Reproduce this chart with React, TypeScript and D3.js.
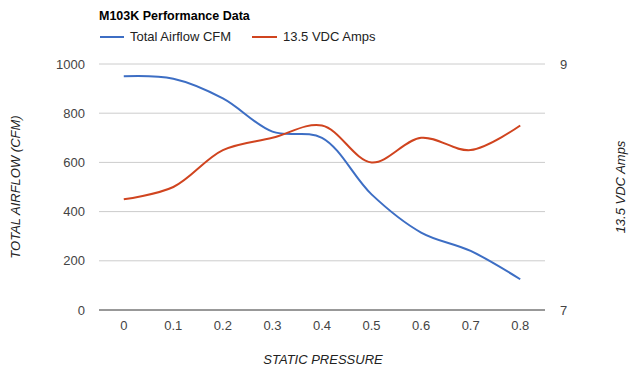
import React from "react";
import * as d3 from "d3";

const pressures = [0, 0.1, 0.2, 0.3, 0.4, 0.5, 0.6, 0.7, 0.8];
const airflowCFM = [950, 940, 860, 725, 700, 470, 315, 240, 125];
const amps = [7.9, 8.0, 8.3, 8.4, 8.5, 8.2, 8.4, 8.3, 8.5];
const leftTicks = [0, 200, 400, 600, 800, 1000];
const rightTicks = [7, 9];
const xTickLabels = ["0", "0.1", "0.2", "0.3", "0.4", "0.5", "0.6", "0.7", "0.8"];

const W = 638;
const H = 378;
const left = 99;
const right = 545;
const top = 64;
const bottom = 310;
const BLUE = "#3d6ec4";
const RED = "#d0441f";
const FONT = "Arial, 'Liberation Sans', sans-serif";

export default function App() {
  const x = d3.scaleLinear().domain([-0.05, 0.85]).range([left, right]);
  const yL = d3.scaleLinear().domain([0, 1000]).range([bottom, top]);
  const yR = d3.scaleLinear().domain([7, 9]).range([bottom, top]);

  const lineBlue = d3
    .line<number>()
    .x((_, i) => x(pressures[i]))
    .y((d) => yL(d))
    .curve(d3.curveCatmullRom.alpha(0.5));
  const lineRed = d3
    .line<number>()
    .x((_, i) => x(pressures[i]))
    .y((d) => yR(d))
    .curve(d3.curveCatmullRom.alpha(0.5));

  return (
    <svg
      width={W}
      height={H}
      style={{ position: "absolute", left: 0, top: 0, background: "#fff" }}
      fontFamily={FONT}
    >
      <rect x={0} y={0} width={W} height={H} fill="#fff" />
      <text x={99} y={20} fontSize={12.5} fontWeight="bold" fill="#000">
        M103K Performance Data
      </text>
      {/* legend */}
      <line x1={100} x2={124} y1={37} y2={37} stroke={BLUE} strokeWidth={2} />
      <text x={130} y={41} fontSize={13} fill="#222">
        Total Airflow CFM
      </text>
      <line x1={252} x2={277} y1={37} y2={37} stroke={RED} strokeWidth={2} />
      <text x={283} y={41} fontSize={13} fill="#222">
        13.5 VDC Amps
      </text>

      {/* gridlines */}
      {leftTicks.map((t) => (
        <g key={t}>
          {t !== 0 && (
            <line x1={left} x2={right} y1={yL(t)} y2={yL(t)} stroke="#cccccc" strokeWidth={1} />
          )}
          <text x={85} y={yL(t) + 4.5} fontSize={13} fill="#444" textAnchor="end">
            {t}
          </text>
        </g>
      ))}
      {rightTicks.map((t) => (
        <text key={t} x={560} y={yR(t) + 4.5} fontSize={13} fill="#444">
          {t}
        </text>
      ))}
      {pressures.map((p, i) => (
        <text key={p} x={x(p)} y={330} fontSize={13} fill="#444" textAnchor="middle">
          {xTickLabels[i]}
        </text>
      ))}

      <path d={lineBlue(airflowCFM) || ""} fill="none" stroke={BLUE} strokeWidth={2} />
      <path d={lineRed(amps) || ""} fill="none" stroke={RED} strokeWidth={2} />

      <line x1={left} x2={right} y1={bottom} y2={bottom} stroke="#333" strokeWidth={1} />

      <text
        x={323}
        y={364}
        fontSize={13}
        fontStyle="italic"
        fill="#222"
        textAnchor="middle"
      >
        STATIC PRESSURE
      </text>
      <text
        transform={`translate(20,${(top + bottom) / 2}) rotate(-90)`}
        fontSize={13}
        fontStyle="italic"
        fill="#222"
        textAnchor="middle"
      >
        TOTAL AIRFLOW (CFM)
      </text>
      <text
        transform={`translate(625,${(top + bottom) / 2}) rotate(-90)`}
        fontSize={13}
        fontStyle="italic"
        fill="#222"
        textAnchor="middle"
      >
        13.5 VDC Amps
      </text>
    </svg>
  );
}
